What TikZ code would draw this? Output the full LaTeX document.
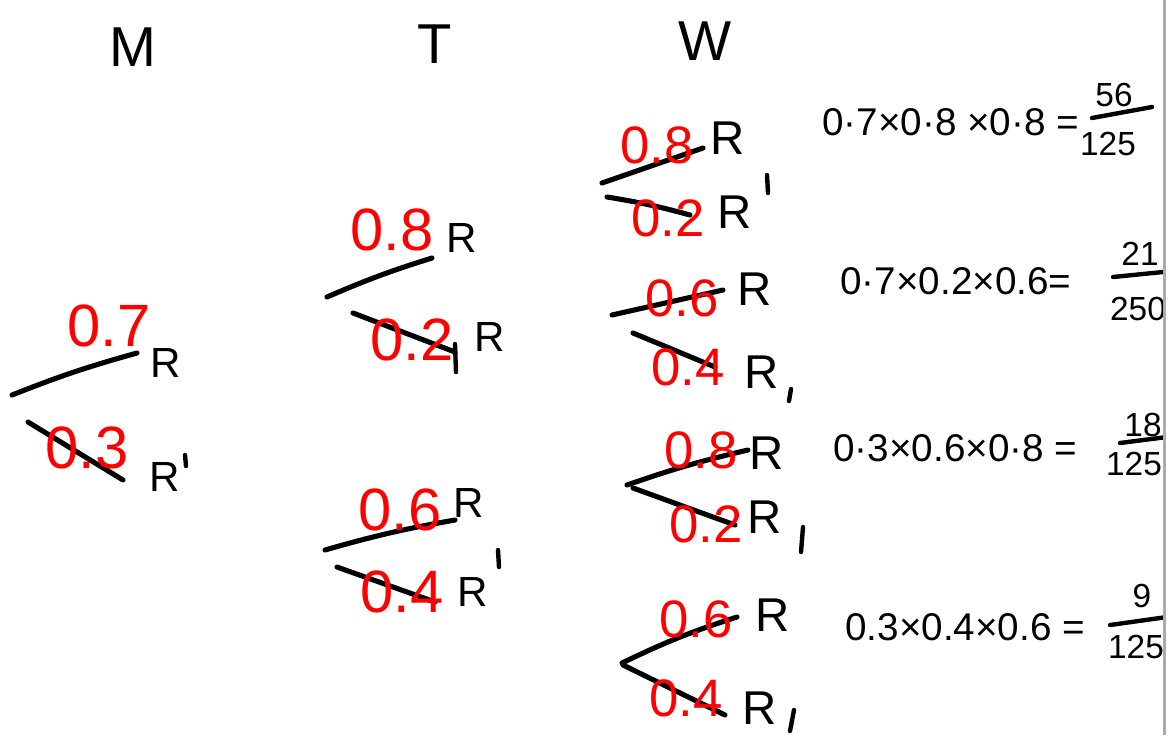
\documentclass[tikz,border=0pt]{standalone}
\usepackage{fontspec}
\setmainfont{Liberation Sans}
\definecolor{ink}{HTML}{000000}
\definecolor{pen}{HTML}{FF0000}
\definecolor{edge}{HTML}{ABABAB}

\begin{document}
\begin{tikzpicture}[
  x=0.02cm, y=-0.02cm,
  branch/.style={draw=ink, line width=2.9pt, line cap=round},
  penline/.style={branch, line width=2.5pt},
  head/.style={font=\fontsize{32}{32}\selectfont, text=ink, inner sep=0pt},
  prob/.style={font=\fontsize{34}{34}\selectfont, text=pen, inner sep=0pt},
  wprob/.style={prob, font=\fontsize{30}{30}\selectfont},
  res/.style={font=\fontsize{24}{24}\selectfont, text=ink, inner sep=0pt},
  wres/.style={res, font=\fontsize{27}{27}\selectfont},
  eqn/.style={font=\fontsize{22}{22}\selectfont, text=ink, inner sep=0pt, anchor=west},
  frac/.style={font=\fontsize{19}{19}\selectfont, text=ink, inner sep=0pt}
]
\fill[white] (0,0) rectangle (1172,735);
\useasboundingbox (0,0) rectangle (1172,735);

\node[head] (hM) at (133,47) {M};
\node[head] (hT) at (435,44) {T};
\node[head] (hW) at (705,41) {W};

% Monday
\coordinate (m1a) at (12,395);  \coordinate (m1b) at (137,353);
\coordinate (m2a) at (28,422);  \coordinate (m2b) at (123,480);
\draw[branch] (m1a) to[bend left=3] (m1b);
\draw[branch] (m2a) -- (m2b);
\node[prob] (pM7) at (109,326) {0.7};
\node[res] (oM1) at (166,363) {R};
\node[prob] (pM3) at (87,448) {0.3};
\node[res] (oM2) at (165,477) {R};
\coordinate (qM2a) at (185,455); \coordinate (qM2b) at (186,466);
\draw[penline] (qM2a) -- (qM2b);

% Tuesday
\coordinate (t1a) at (327,297); \coordinate (t1b) at (432,258);
\coordinate (t2a) at (353,313); \coordinate (t2b) at (455,352);
\coordinate (t3a) at (325,550); \coordinate (t3b) at (455,520);
\coordinate (t4a) at (337,567); \coordinate (t4b) at (435,602);
\draw[branch] (t1a) to[bend left=3] (t1b);
\draw[branch] (t2a) -- (t2b);
\draw[branch] (t3a) to[bend left=3] (t3b);
\draw[branch] (t4a) -- (t4b);
\node[prob] (pT8) at (392,230) {0.8};
\node[res] (oT1) at (462,238) {R};
\node[prob] (pT2) at (412,340) {0.2};
\coordinate (qT2a) at (455,344); \coordinate (qT2b) at (456,372);
\draw[penline] (qT2a) -- (qT2b);
\node[res] (oT2) at (490,337) {R};
\node[prob] (pT6) at (400,510) {0.6};
\node[res] (oT3) at (469,503) {R};
\node[prob] (pT4) at (402,592) {0.4};
\node[res] (oT4) at (473,592) {R};
\coordinate (qT4a) at (498,550); \coordinate (qT4b) at (499,567);
\draw[penline] (qT4a) -- (qT4b);

% Wednesday
\coordinate (w1a) at (602,183); \coordinate (w1b) at (703,148);
\coordinate (w2a) at (607,197); \coordinate (w2b) at (690,215);
\coordinate (w3a) at (612,315); \coordinate (w3b) at (723,290);
\coordinate (w4a) at (633,333); \coordinate (w4b) at (715,367);
\coordinate (w5a) at (627,485); \coordinate (w5b) at (748,450);
\coordinate (w6a) at (633,488); \coordinate (w6b) at (735,525);
\coordinate (w7a) at (622,663); \coordinate (w7b) at (737,617);
\coordinate (w8a) at (623,665); \coordinate (w8b) at (725,715);
\draw[branch] (w1a) -- (w1b);
\draw[branch] (w2a) to[bend left=3] (w2b);
\draw[branch] (w3a) -- (w3b);
\draw[branch] (w4a) -- (w4b);
\draw[branch] (w5a) to[bend left=3] (w5b);
\draw[branch] (w6a) -- (w6b);
\draw[branch] (w7a) to[bend left=4] (w7b);
\draw[branch] (w8a) -- (w8b);
\node[wprob] (pW1) at (657,145) {0.8};
\node[wres] (oW1) at (728,138) {R};
\node[wprob] (pW2) at (668,218) {0.2};
\node[wres] (oW2) at (735,212) {R};
\coordinate (qW2a) at (767,175); \coordinate (qW2b) at (768,193);
\draw[penline] (qW2a) -- (qW2b);
\node[wprob] (pW3) at (682,298) {0.6};
\node[wres] (oW3) at (755,289) {R};
\node[wprob] (pW4) at (688,367) {0.4};
\node[wres] (oW4) at (762,372) {R};
\coordinate (qW4a) at (791,389); \coordinate (qW4b) at (789,401);
\draw[penline] (qW4a) -- (qW4b);
\node[wprob] (pW5) at (701,450) {0.8};
\node[wres] (oW5) at (767,453) {R};
\node[wprob] (pW6) at (706,524) {0.2};
\node[wres] (oW6) at (765,517) {R};
\coordinate (qW6a) at (803,527); \coordinate (qW6b) at (801,552);
\draw[penline] (qW6a) -- (qW6b);
\node[wprob] (pW7) at (696,619) {0.6};
\node[wres] (oW7) at (773,615) {R};
\node[wprob] (pW8) at (686,698) {0.4};
\node[wres] (oW8) at (760,708) {R};
\coordinate (qW8a) at (794,710); \coordinate (qW8b) at (790,731);
\draw[penline] (qW8a) -- (qW8b);

% products
\node[eqn] (e1) at (822,122) {0·7×0·8 ×0·8 =};
\node[frac] (n1) at (1114,95) {56};
\coordinate (f1a) at (1092,118); \coordinate (f1b) at (1152,107);
\draw[penline] (f1a) -- (f1b);
\node[frac] (d1) at (1108,144) {125};

\node[eqn] (e2) at (840,281) {0·7×0.2×0.6=};
\node[frac] (n2) at (1140,254) {21};
\coordinate (f2a) at (1113,277); \coordinate (f2b) at (1163,272);
\draw[penline] (f2a) -- (f2b);
\node[frac] (d2) at (1138,309) {250};

\node[eqn] (e3) at (833,448) {0·3×0.6×0·8 =};
\node[frac] (n3) at (1143,425) {18};
\coordinate (f3a) at (1120,443); \coordinate (f3b) at (1167,437);
\draw[penline] (f3a) -- (f3b);
\node[frac] (d3) at (1134,464) {125};

\node[eqn] (e4) at (845,627) {0.3×0.4×0.6 =};
\node[frac] (n4) at (1142,596) {9};
\coordinate (f4a) at (1110,625); \coordinate (f4b) at (1167,617);
\draw[penline] (f4a) -- (f4b);
\node[frac] (d4) at (1136,647) {125};

\fill[white] (1163,0) rectangle (1172,735);
\fill[edge] (1163,0) rectangle (1166,735);
\end{tikzpicture}
\end{document}
